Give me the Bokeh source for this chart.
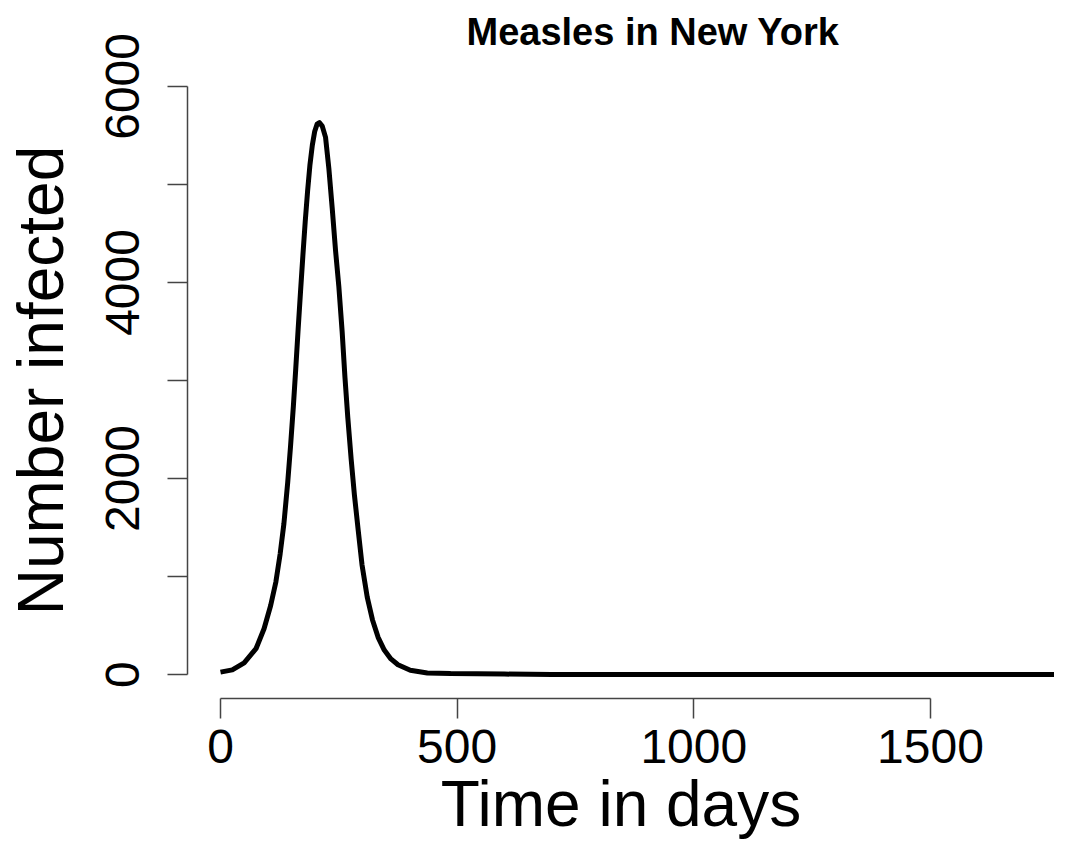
from bokeh.plotting import figure
from bokeh.models import Range1d, FixedTicker
from bokeh.embed import file_html
from bokeh.resources import INLINE

# ---- data ----
days = [0, 25, 50, 75, 92, 106, 117, 126, 134, 142, 148, 154, 159, 164, 169, 174, 179, 184,
        189, 194, 199, 204, 209, 215, 222, 229, 236, 243, 250, 257, 263, 269, 276, 283,
        291, 299, 310, 321, 333, 346, 360, 375, 401, 437, 486, 542, 600, 700,
        800, 1000, 1200, 1400, 1600, 1800]
infected = [25, 48, 120, 264, 468, 705, 945, 1230, 1540, 1960, 2330, 2740, 3120, 3520, 3900, 4270, 4620, 4930,
            5200, 5400, 5540, 5615, 5630, 5595, 5480, 5160, 4760, 4330, 3960, 3500, 3030, 2620, 2200, 1830,
            1470, 1120, 790, 560, 380, 250, 160, 100, 44, 17, 10, 8, 5, 2,
            0, 0, 0, 0, 0, 0]
x_ticks = [0, 500, 1000, 1500]
y_ticks = [0, 1000, 2000, 3000, 4000, 5000, 6000]
y_tick_labels = ["0", "", "2000", "", "4000", "", "6000"]
title_text = "Measles in New York"
x_label = "Time in days"
y_label = "Number infected"

FONT = "Liberation Sans"

p = figure(width=1054, height=842, output_backend="svg", toolbar_location=None,
           x_range=Range1d(-69.7, 1762), y_range=Range1d(-244, 6244),
           min_border_left=187, min_border_right=0, min_border_top=62, min_border_bottom=142)
p.outline_line_color = None
p.grid.visible = False
p.background_fill_color = "white"
p.border_fill_color = "white"

p.line(days, infected, line_width=5, line_color="black", line_join="round")

axis_color = "#444444"
for ax in (p.xaxis[0], p.yaxis[0]):
    ax.axis_line_color = axis_color
    ax.axis_line_width = 1.5
    ax.major_tick_line_color = axis_color
    ax.major_tick_line_width = 1.5
    ax.major_tick_out = 20
    ax.major_tick_in = 0
    ax.minor_tick_line_color = None
    ax.major_label_text_font = FONT
    ax.major_label_text_font_size = "48px"
    ax.major_label_text_color = "black"
    ax.axis_label_text_font = FONT
    ax.axis_label_text_font_size = "64px"
    ax.axis_label_text_font_style = "normal"
    ax.axis_label_text_color = "black"

p.xaxis.ticker = FixedTicker(ticks=x_ticks)
p.xaxis.bounds = (x_ticks[0], x_ticks[-1])
p.xaxis.axis_label = x_label
p.xaxis.major_label_standoff = 11
p.xaxis.axis_label_standoff = 2

p.yaxis.ticker = FixedTicker(ticks=y_ticks)
p.yaxis.bounds = (y_ticks[0], y_ticks[-1])
p.yaxis.major_label_overrides = {t: l for t, l in zip(y_ticks, y_tick_labels)}
p.yaxis.major_label_orientation = "parallel"
p.yaxis.axis_label = y_label
p.yaxis.major_label_standoff = 28
p.yaxis.axis_label_standoff = 27

p.title.text = title_text
p.title.align = "left"
p.title.offset = 279
p.title.standoff = 16
p.title.vertical_align = "top"
p.title.text_font = FONT
p.title.text_font_size = "38px"
p.title.text_font_style = "bold"
p.title.text_color = "black"

open("out.html", "w").write(file_html(p, INLINE))
